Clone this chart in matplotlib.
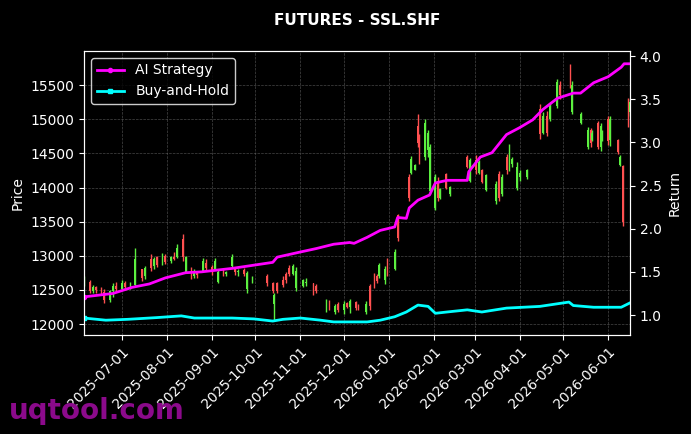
import pandas as pd
import matplotlib
matplotlib.use('Agg')
import matplotlib.pyplot as plt
import matplotlib.dates as mdates

# candles (date, open, high, low, close)
candle_dates = ['2025-06-05', '2025-06-09', '2025-06-11', '2025-06-13', '2025-06-17', '2025-06-19',
                '2025-06-23', '2025-06-25', '2025-06-27', '2025-07-01', '2025-07-03', '2025-07-07',
                '2025-07-10', '2025-07-15', '2025-07-17', '2025-07-21', '2025-07-23', '2025-07-25',
                '2025-07-29', '2025-07-31', '2025-08-04', '2025-08-06', '2025-08-08', '2025-08-12',
                '2025-08-14', '2025-08-18', '2025-08-20', '2025-08-22', '2025-08-26', '2025-08-28',
                '2025-09-01', '2025-09-03', '2025-09-05', '2025-09-09', '2025-09-11', '2025-09-15',
                '2025-09-17', '2025-09-19', '2025-09-23', '2025-09-25', '2025-09-29', '2025-10-09',
                '2025-10-13', '2025-10-14', '2025-10-16', '2025-10-20', '2025-10-22', '2025-10-24',
                '2025-10-27', '2025-10-29', '2025-11-03', '2025-11-05', '2025-11-10', '2025-11-12',
                '2025-11-19', '2025-11-21', '2025-11-25', '2025-11-27', '2025-12-01', '2025-12-03',
                '2025-12-05', '2025-12-09', '2025-12-11', '2025-12-16', '2025-12-19', '2025-12-22',
                '2025-12-24', '2025-12-25', '2025-12-29', '2025-12-31', '2026-01-05', '2026-01-07',
                '2026-01-15', '2026-01-16', '2026-01-19', '2026-01-21', '2026-01-22', '2026-01-26',
                '2026-01-28', '2026-01-29', '2026-02-02', '2026-02-04', '2026-02-05', '2026-02-09',
                '2026-02-12', '2026-02-24', '2026-02-26', '2026-03-02', '2026-03-04', '2026-03-06',
                '2026-03-09', '2026-03-16', '2026-03-18', '2026-03-20', '2026-03-23', '2026-03-25',
                '2026-03-27', '2026-03-30', '2026-04-01', '2026-04-06', '2026-04-15', '2026-04-17',
                '2026-04-20', '2026-04-22', '2026-04-27', '2026-04-29', '2026-05-06', '2026-05-07',
                '2026-05-13', '2026-05-18', '2026-05-20', '2026-05-21', '2026-05-25', '2026-05-27',
                '2026-05-28', '2026-06-01', '2026-06-02', '2026-06-08', '2026-06-09', '2026-06-11',
                '2026-06-15', '2026-06-16']
opens = [12600, 12620, 12480, 12540, 12500, 12470, 12350, 12480, 12560, 12520, 12600, 12540,
         12580, 12800, 12700, 12950, 12850, 12980, 12880, 13000, 12920, 12990, 12980, 13250,
         12750, 12820, 12700, 12760, 12780, 12900, 12830, 12800, 12620, 12800, 12740, 12850,
         12800, 12760, 12790, 12520, 12650, 12700, 12600, 12300, 12600, 12640, 12730, 12820,
         12740, 12530, 12560, 12600, 12600, 12560, 12220, 12340, 12180, 12300, 12200, 12310,
         12250, 12320, 12280, 12180, 12560, 12720, 12700, 12700, 12650, 12900, 12800, 13600,
         14150, 14220, 14260, 14900, 14700, 14450, 14550, 13950, 13700, 14100, 13850, 14200,
         13900, 14450, 14100, 14400, 14220, 14250, 13960, 13800, 14200, 13900, 14450, 14300,
         14350, 14000, 14150, 14150, 15150, 14800, 15050, 15000, 15200, 15500, 15750, 15100,
         14950, 14600, 14850, 14700, 14950, 14600, 14700, 15000, 14700, 14700, 14330, 14320,
         15300, 15100]
highs = [12710, 12640, 12570, 12560, 12540, 12520, 12500, 12600, 12620, 12640, 12630, 12620,
         13120, 12810, 12850, 13030, 12990, 13000, 13040, 13020, 13000, 13060, 13180, 13320,
         13000, 12830, 12800, 12780, 12970, 12950, 12870, 12970, 12800, 12810, 12780, 13030,
         12830, 12800, 12820, 12780, 12700, 12740, 12620, 12460, 12610, 12700, 12760, 12860,
         12880, 12830, 12660, 12680, 12600, 12590, 12370, 12350, 12300, 12320, 12340, 12330,
         12370, 12340, 12300, 12340, 12590, 12750, 12740, 12900, 12850, 12970, 13100, 13620,
         14200, 14460, 14350, 15080, 14780, 15000, 14850, 14640, 14200, 14150, 14000, 14220,
         14030, 14470, 14440, 14470, 14400, 14270, 14200, 14100, 14240, 14200, 14490, 14640,
         14450, 14380, 14250, 14270, 15230, 15100, 15120, 15240, 15590, 15560, 15810, 15560,
         15100, 14880, 14870, 14850, 14980, 14950, 14850, 15050, 15050, 14710, 14470, 14330,
         15310, 15300]
lows = [12560, 12450, 12460, 12460, 12440, 12310, 12330, 12400, 12480, 12500, 12500, 12520,
        12560, 12630, 12660, 12780, 12800, 12830, 12860, 12880, 12900, 12940, 12970, 12930,
        12750, 12660, 12680, 12680, 12780, 12780, 12720, 12790, 12600, 12700, 12710, 12830,
        12720, 12700, 12710, 12460, 12600, 12560, 12460, 12050, 12460, 12540, 12600, 12700,
        12720, 12490, 12540, 12560, 12420, 12450, 12180, 12200, 12150, 12180, 12150, 12230,
        12160, 12200, 12200, 12150, 12200, 12530, 12600, 12680, 12590, 12700, 12790, 13220,
        13800, 14200, 14250, 14600, 14350, 14400, 14450, 13900, 13670, 13810, 13830, 13980,
        13880, 14280, 14080, 14200, 14200, 14060, 13950, 13760, 13800, 13880, 14200, 14240,
        14300, 13970, 14100, 14130, 14710, 14780, 14760, 14980, 15170, 15300, 15460, 15070,
        14930, 14570, 14600, 14680, 14560, 14540, 14680, 14620, 14610, 14490, 14320, 13440,
        14880, 15050]
closes = [12690, 12480, 12550, 12500, 12470, 12350, 12480, 12560, 12520, 12600, 12540, 12590,
          12950, 12680, 12820, 12820, 12960, 12870, 13000, 12910, 12980, 12960, 13120, 12980,
          12980, 12700, 12760, 12720, 12920, 12820, 12780, 12930, 12770, 12730, 12760, 12990,
          12760, 12780, 12740, 12750, 12680, 12600, 12480, 12420, 12490, 12580, 12650, 12740,
          12850, 12780, 12640, 12620, 12450, 12480, 12340, 12230, 12270, 12200, 12300, 12250,
          12340, 12240, 12220, 12300, 12260, 12560, 12630, 12870, 12800, 12750, 13050, 13260,
          13850, 14420, 14330, 14650, 14400, 14950, 14800, 14600, 14150, 13850, 13980, 14000,
          14010, 14300, 14400, 14250, 14380, 14080, 14180, 14050, 13850, 14150, 14250, 14550,
          14420, 14300, 14220, 14250, 14780, 15050, 14800, 15200, 15550, 15350, 15500, 15500,
          15080, 14850, 14650, 14800, 14600, 14900, 14820, 14680, 15000, 14520, 14450, 13500,
          14920, 15250]

# cumulative returns
ai_dates = ['2025-06-05', '2025-06-25', '2025-07-08', '2025-07-20', '2025-07-31', '2025-08-14',
            '2025-08-25', '2025-09-15', '2025-10-13', '2025-10-16', '2025-11-01', '2025-11-12',
            '2025-11-24', '2025-12-05', '2025-12-08', '2025-12-17', '2025-12-26', '2026-01-05',
            '2026-01-07', '2026-01-13', '2026-01-15', '2026-01-21', '2026-01-29', '2026-02-02',
            '2026-02-10', '2026-02-24', '2026-02-25', '2026-03-05', '2026-03-13', '2026-03-23',
            '2026-04-01', '2026-04-10', '2026-04-17', '2026-04-27', '2026-05-08', '2026-05-13',
            '2026-05-22', '2026-06-01', '2026-06-10', '2026-06-12', '2026-06-16']
ai_ret = [1.21, 1.25, 1.32, 1.36, 1.43, 1.49, 1.50, 1.54, 1.61, 1.67, 1.73, 1.77,
          1.82, 1.84, 1.83, 1.90, 1.98, 2.02, 2.13, 2.12, 2.24, 2.33, 2.39, 2.53,
          2.56, 2.56, 2.66, 2.83, 2.88, 3.09, 3.17, 3.26, 3.38, 3.51, 3.57, 3.57,
          3.69, 3.76, 3.87, 3.91, 3.91]
bh_dates = ['2025-06-05', '2025-06-20', '2025-07-05', '2025-07-25', '2025-08-11', '2025-08-20',
            '2025-09-15', '2025-09-30', '2025-10-13', '2025-10-20', '2025-11-01', '2025-11-15',
            '2025-11-24', '2025-12-17', '2025-12-26', '2026-01-05', '2026-01-13', '2026-01-21',
            '2026-01-28', '2026-02-02', '2026-02-10', '2026-02-24', '2026-03-06', '2026-03-23',
            '2026-04-15', '2026-05-05', '2026-05-08', '2026-05-22', '2026-06-10', '2026-06-16']
bh_ret = [0.965, 0.94, 0.95, 0.97, 0.99, 0.965, 0.965, 0.955, 0.93, 0.95, 0.965, 0.94,
          0.92, 0.92, 0.94, 0.98, 1.035, 1.115, 1.10, 1.02, 1.035, 1.06, 1.035, 1.08,
          1.10, 1.15, 1.11, 1.09, 1.09, 1.14]

df = pd.DataFrame({'open': opens, 'high': highs, 'low': lows, 'close': closes},
                  index=pd.to_datetime(candle_dates))
up = df['close'] >= df['open']
colors = ['#5cf040' if u else '#ff5050' for u in up]

plt.rcParams['font.family'] = 'DejaVu Sans'
fig = plt.figure(figsize=(6.91, 4.34), dpi=100, facecolor='black')
ax = fig.add_axes([0.1216, 0.228, 0.79, 0.6545])
ax.set_facecolor('black')

x = mdates.date2num(df.index.to_pydatetime())
ax.vlines(x, df['low'], df['high'], colors=colors, linewidth=1.0, zorder=2)
ax.bar(x, (df['close'] - df['open']).abs().clip(lower=15), bottom=df[['open', 'close']].min(axis=1),
       width=1.2, color=colors, zorder=3)

ax.set_ylim(11840, 16000)
ax.set_yticks([12000, 12500, 13000, 13500, 14000, 14500, 15000, 15500])
ax.set_xlim(mdates.datestr2num('2025-06-05'), mdates.datestr2num('2026-06-16'))
ax.xaxis.set_major_locator(mdates.MonthLocator())
ax.xaxis.set_major_formatter(mdates.DateFormatter('%Y-%m-%d'))
plt.setp(ax.get_xticklabels(), rotation=45, ha='right', rotation_mode='anchor')
ax.grid(True, color='#777777', linestyle='--', linewidth=0.5, alpha=0.6)
ax.set_ylabel('Price', color='white')
ax.set_title('FUTURES - SSL.SHF', color='white', fontweight='bold', fontsize=11, pad=19)

ax2 = ax.twinx()
ax2.plot(pd.to_datetime(ai_dates), ai_ret, color='#ff00ff', linewidth=2, marker='o', markersize=3,
         markevery=[0], label='AI Strategy')
ax2.plot(pd.to_datetime(bh_dates), bh_ret, color='#00ffff', linewidth=2, marker='s', markersize=3,
         markevery=[0], label='Buy-and-Hold')
ax2.set_ylim(0.768, 4.058)
ax2.set_ylabel('Return', color='white')

for a in (ax, ax2):
    a.tick_params(colors='white', labelsize=10)
    for s in a.spines.values():
        s.set_color('white')

leg = ax2.legend(loc='upper left', facecolor='black', edgecolor='white', fontsize=10)
for t in leg.get_texts():
    t.set_color('white')

fig.text(0.013, 0.035, 'uqtool.com', color='#8b0a8b', fontsize=20, fontweight='bold')

plt.savefig('out.png', facecolor='black')
